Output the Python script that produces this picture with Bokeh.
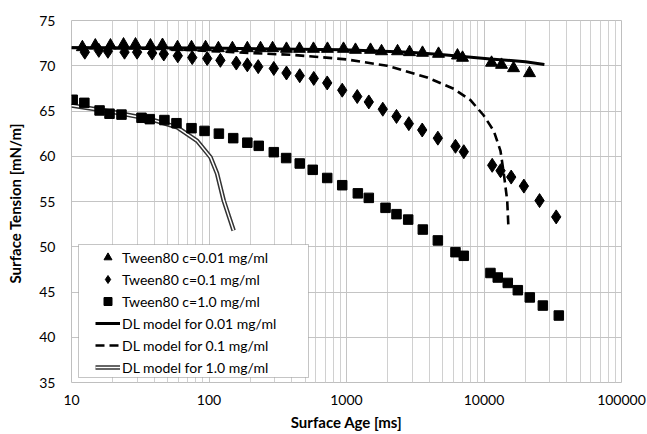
from bokeh.plotting import figure
from bokeh.models import FixedTicker, Legend, LegendItem, Range1d, BoxAnnotation
from bokeh.embed import file_html
from bokeh.resources import INLINE

# ---- data ----
age_001 = [12, 14.9, 19.2, 23.9, 29.2, 37.5, 45.9, 59, 74.6, 94.4, 117, 148, 190, 237, 290,
           366, 455, 575, 727, 951, 1162, 1495, 1798, 2351, 2873, 3571, 4670, 6412, 6980,
           11345, 13410, 16400, 21430]
st_001 = [72.05, 72.24, 72.24, 72.35, 72.35, 72.24, 72.3, 72.05, 72.05, 72.05, 71.94, 71.94,
          71.94, 71.94, 71.94, 71.87, 71.87, 71.87, 71.87, 71.87, 71.76, 71.76, 71.6, 71.6,
          71.5, 71.43, 71.32, 71.13, 70.88, 70.33, 70.1, 69.73, 69.18]

age_01 = [12.5, 15.8, 18.4, 24.3, 30, 38.6, 46.9, 59.3, 75.5, 97, 121, 158, 190, 228, 296,
          366, 457, 578, 724, 931, 1197, 1453, 1836, 2310, 2840, 3554, 4617, 6203, 7130,
          11470, 13190, 15770, 19500, 25350, 33500]
st_01 = [71.5, 71.7, 71.6, 71.5, 71.5, 71.4, 71.3, 71.1, 70.9, 70.8, 70.6, 70.3, 70.1, 69.9,
         69.7, 69.2, 68.9, 68.6, 68.1, 67.3, 66.6, 66.0, 65.2, 64.4, 63.6, 62.9, 62.0, 61.1,
         60.5, 59.0, 58.4, 57.7, 56.7, 55.1, 53.3]

age_10 = [10.2, 12.4, 16, 18.9, 23.1, 32.3, 37.1, 47.4, 58, 74.6, 92.8, 118, 150, 190, 230,
          296, 364, 457, 568, 724, 931, 1209, 1453, 1922, 2310, 2810, 3590, 4617, 6203, 7130,
          11140, 12590, 14890, 17620, 21530, 26790, 35000]
st_10 = [66.24, 65.9, 65.06, 64.7, 64.6, 64.25, 64.1, 64.0, 63.65, 63.1, 62.8, 62.5, 62.0,
         61.5, 61.15, 60.45, 59.8, 59.2, 58.5, 57.6, 56.8, 55.9, 55.4, 54.3, 53.6, 53.0, 51.9,
         50.7, 49.4, 49.0, 47.1, 46.6, 46.0, 45.2, 44.4, 43.5, 42.4]

model_age_001 = [10, 100, 950, 2870, 4830, 11140, 20000, 27500]
model_st_001 = [72.0, 71.95, 71.76, 71.5, 71.25, 70.75, 70.45, 70.15]

model_age_01 = [10, 50, 150, 400, 650, 1000, 1977, 3866, 6030, 7975, 9960, 11780, 13180,
                13930, 14750, 15070]
model_st_01 = [72.0, 71.85, 71.5, 71.2, 70.95, 70.7, 70.0, 68.7, 67.45, 66.2, 64.5, 62.8,
               60.6, 58.1, 55.1, 52.0]

model_age_10 = [10, 19.2, 37.5, 58.8, 82, 102.5, 114.4, 128, 140, 151]
model_st_10 = [65.6, 64.95, 64.1, 63.2, 61.7, 59.9, 58.1, 55.1, 53.3, 51.8]

x_major = [10, 100, 1000, 10000, 100000]
x_labels = ["10", "100", "1000", "10000", "100000"]
y_major = [35, 40, 45, 50, 55, 60, 65, 70, 75]

labels = ["Tween80 c=0.01 mg/ml", "Tween80 c=0.1 mg/ml", "Tween80 c=1.0 mg/ml",
          "DL model for 0.01 mg/ml", "DL model for 0.1 mg/ml", "DL model for 1.0 mg/ml"]

FONT = "Lato"

p = figure(width=647, height=434, x_axis_type="log", output_backend="svg",
           toolbar_location=None, x_range=Range1d(10, 100000), y_range=Range1d(35, 75),
           min_border_left=71, min_border_right=26, min_border_top=20, min_border_bottom=52)
p.background_fill_color = "white"
p.border_fill_color = "white"
p.outline_line_color = "#bfbfbf"
p.outline_line_width = 1

minor = [m * d for d in x_major[:-1] for m in range(2, 10)]
p.xaxis.ticker = FixedTicker(ticks=x_major, minor_ticks=minor)
p.yaxis.ticker = FixedTicker(ticks=y_major)
p.xaxis.major_label_overrides = {t: l for t, l in zip(x_major, x_labels)}

for ax in (p.xaxis[0], p.yaxis[0]):
    ax.axis_line_color = None
    ax.major_tick_line_color = None
    ax.minor_tick_line_color = None
    ax.major_tick_in = 0
    ax.major_tick_out = 0
    ax.minor_tick_in = 0
    ax.minor_tick_out = 0
    ax.major_label_text_font = FONT
    ax.major_label_text_font_size = "14px"
    ax.major_label_text_color = "black"
    ax.axis_label_text_font = FONT
    ax.axis_label_text_font_size = "15px"
    ax.axis_label_text_font_style = "bold"
    ax.axis_label_text_color = "black"

p.xaxis.major_label_standoff = 12
p.xaxis.axis_label = "Surface Age [ms]"
p.xaxis.axis_label_standoff = 5
p.yaxis.major_label_standoff = 16
p.yaxis.axis_label = "Surface Tension  [mN/m]"
p.yaxis.axis_label_standoff = 12

p.xgrid.grid_line_color = "#c4c4c4"
p.xgrid.minor_grid_line_color = "#d0d0d0"
p.ygrid.grid_line_color = "#c4c4c4"

# legend frame (drawn as a box so that the inner spacing can differ per side)
frame_box = BoxAnnotation(left=7, right=237, bottom=5, top=138,
                          left_units="screen", right_units="screen",
                          bottom_units="screen", top_units="screen",
                          fill_color="white", fill_alpha=1.0,
                          line_color="#404040", line_width=1, level="underlay")
p.add_layout(frame_box)

# model lines
l1 = p.line(model_age_001, model_st_001, line_color="black", line_width=3)
l2 = p.line(model_age_01, model_st_01, line_color="black", line_width=2.6, line_dash="9 5")
l3a = p.line(model_age_10, model_st_10, line_color="#333333", line_width=4.5)
l3b = p.line(model_age_10, model_st_10, line_color="white", line_width=1.5)

# markers
m1 = p.scatter(age_001, st_001, marker="triangle", size=12, color="black")
m2 = p.scatter(age_01, st_01, marker="diamond", size=14, color="black")
m3 = p.scatter(age_10, st_10, marker="square", size=9.5, color="black")

legend = Legend(items=[
    LegendItem(label=labels[0], renderers=[m1]),
    LegendItem(label=labels[1], renderers=[m2]),
    LegendItem(label=labels[2], renderers=[m3]),
    LegendItem(label=labels[3], renderers=[l1]),
    LegendItem(label=labels[4], renderers=[l2]),
    LegendItem(label=labels[5], renderers=[l3a, l3b]),
], location=(24, 5))
legend.label_text_font = FONT
legend.label_text_font_size = "14px"
legend.label_text_color = "black"
legend.glyph_width = 25
legend.glyph_height = 20
legend.label_height = 20
legend.spacing = 2
legend.padding = 2
legend.margin = 0
legend.label_standoff = 2
legend.border_line_color = None
legend.background_fill_alpha = 0
p.add_layout(legend)

open("out.html", "w").write(file_html(p, INLINE))
